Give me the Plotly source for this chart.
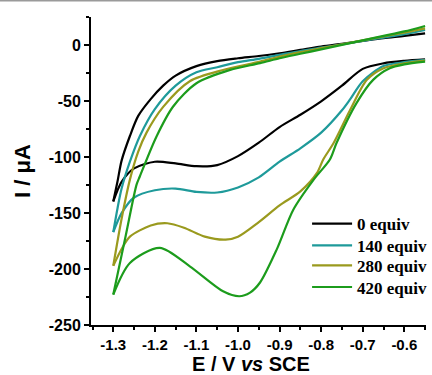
import plotly.graph_objects as go

# ---------------- data (E in V vs SCE, I in uA) ----------------
labels = ["0 equiv", "140 equiv", "280 equiv", "420 equiv"]
colors = ["#000000", "#1e9a9a", "#9a9a1e", "#1c9c1c"]

# cathodic scans (from -0.55 V towards -1.3 V)
e_cat_0 = [-0.55, -0.6, -0.65, -0.7, -0.75, -0.8, -0.85, -0.9, -0.95, -1.0, -1.05, -1.1, -1.15, -1.2, -1.25, -1.28, -1.3]
i_cat_0 = [-12.5, -13.8, -16, -21, -36, -50, -62, -73, -87, -99, -107, -108, -105.5, -104, -110, -122, -139.5]

e_cat_140 = [-0.55, -0.6, -0.65, -0.7, -0.73, -0.75, -0.8, -0.85, -0.9, -0.95, -1.0, -1.05, -1.1, -1.15, -1.2, -1.25, -1.28, -1.3]
i_cat_140 = [-13, -15, -18.5, -32, -48, -58, -78, -92, -104, -118, -127, -131.5, -131, -128, -129.5, -136, -150, -167]

e_cat_280 = [-0.55, -0.6, -0.65, -0.69, -0.73, -0.77, -0.795, -0.81, -0.85, -0.9, -0.95, -1.0, -1.03, -1.08, -1.13, -1.17, -1.21, -1.26, -1.28, -1.3]
i_cat_280 = [-13.5, -16, -20.4, -30.8, -57.6, -87.3, -102, -114, -130.5, -143, -158, -171, -173.7, -171, -163, -159, -161, -171, -182, -197]

e_cat_420 = [-0.55, -0.6, -0.635, -0.675, -0.715, -0.763, -0.779, -0.818, -0.867, -0.907, -0.947, -0.971, -0.997, -1.036, -1.116, -1.188, -1.26, -1.3]
i_cat_420 = [-14.5, -17, -20.4, -30.8, -51.6, -87.3, -102, -120, -146.9, -182.6, -212, -221, -224.3, -219.8, -197.5, -181, -194.5, -222.8]

# anodic scans (from -1.3 V back to -0.55 V)
e_an_0 = [-1.3, -1.29, -1.28, -1.26, -1.24, -1.21, -1.18, -1.15, -1.1, -1.05, -1.0, -0.95, -0.9, -0.85, -0.8, -0.75, -0.7, -0.65, -0.6, -0.55]
i_an_0 = [-139.5, -122, -103, -81, -63, -48, -36, -27, -18.5, -14, -11.5, -9.5, -7, -4, -1, 1.5, 4, 6.5, 8.5, 10.8]

e_an_140 = [-1.3, -1.29, -1.28, -1.26, -1.236, -1.2, -1.15, -1.1, -1.05, -1.0, -0.95, -0.9, -0.85, -0.8, -0.75, -0.7, -0.65, -0.6, -0.55]
i_an_140 = [-167, -146, -128, -104, -81, -57, -36, -24, -19.5, -15, -12, -8.5, -5, -2, 1, 4, 7, 10, 13.8]

e_an_280 = [-1.3, -1.28, -1.26, -1.24, -1.22, -1.18, -1.116, -1.036, -0.947, -0.9, -0.85, -0.8, -0.75, -0.7, -0.65, -0.6, -0.55]
i_an_280 = [-197, -155, -120, -95, -78, -55, -32, -22, -14.5, -10, -6, -2.5, 1, 4.5, 8, 11.5, 15.3]

e_an_420 = [-1.3, -1.27, -1.244, -1.236, -1.196, -1.156, -1.1, -1.019, -0.947, -0.9, -0.85, -0.8, -0.75, -0.7, -0.65, -0.6, -0.55]
i_an_420 = [-222.8, -170, -124.5, -117, -81.4, -54.6, -33.8, -21.9, -15.9, -11.5, -7.5, -3.5, 0.5, 4.5, 8.5, 12.5, 17.4]

cathodic = [(e_cat_0, i_cat_0), (e_cat_140, i_cat_140), (e_cat_280, i_cat_280), (e_cat_420, i_cat_420)]
anodic = [(e_an_0, i_an_0), (e_an_140, i_an_140), (e_an_280, i_an_280), (e_an_420, i_an_420)]

x_tickvals = [-1.3, -1.2, -1.1, -1.0, -0.9, -0.8, -0.7, -0.6]
x_ticktext = ["-1.3", "-1.2", "-1.1", "-1.0", "-0.9", "-0.8", "-0.7", "-0.6"]
y_tickvals = [0, -50, -100, -150, -200, -250]
y_ticktext = ["0", "-50", "-100", "-150", "-200", "-250"]
x_title = "E / V <i>vs</i> SCE"
y_title = "I / μA"

# ---------------- figure ----------------
legend_ids = ["legend", "legend2", "legend3", "legend4"]
legend_tops = [0.386, 0.3155, 0.2505, 0.1804]

fig = go.Figure()
for k in range(4):
    ec, ic = cathodic[k]
    ea, ia = anodic[k]
    fig.add_trace(go.Scatter(x=ec, y=ic, mode="lines", name=labels[k], legendgroup=labels[k],
                             legend=legend_ids[k],
                             line=dict(color=colors[k], width=2.2, shape="spline", smoothing=0.8)))
    fig.add_trace(go.Scatter(x=ea, y=ia, mode="lines", name=labels[k], legendgroup=labels[k],
                             legend=legend_ids[k], showlegend=False,
                             line=dict(color=colors[k], width=2.2, shape="spline", smoothing=0.8)))

yaxis_font = dict(family="Arial, Liberation Sans", size=16, color="#000", weight="bold")
xaxis_font = dict(family="Arial, Liberation Sans", size=15, color="#000", weight="bold")
title_font = dict(family="Arial, Liberation Sans", size=22, color="#000", weight="bold")
xtitle_font = dict(family="Arial, Liberation Sans", size=20, color="#000", weight="bold")
legend_font = dict(family="Liberation Serif, Times New Roman", size=17, color="#000", weight="bold")

legend_layout = {}
for k in range(4):
    legend_layout[legend_ids[k]] = dict(x=0.645, y=legend_tops[k], xanchor="left", yanchor="top",
                                        bgcolor="rgba(0,0,0,0)", borderwidth=0,
                                        font=legend_font, itemwidth=40)

fig.update_layout(
    width=432, height=375,
    margin=dict(l=91, r=6, t=17, b=50, autoexpand=False),
    paper_bgcolor="white", plot_bgcolor="white",
    showlegend=True,
    xaxis=dict(range=[-1.3536, -0.5478], tickvals=x_tickvals, ticktext=x_ticktext,
               showgrid=False, zeroline=False, showline=True, linecolor="#000", linewidth=2,
               ticks="outside", ticklen=5, tickwidth=2, tickcolor="#000",
               tickfont=xaxis_font, automargin=False,
               minor=dict(dtick=0.05, tick0=-1.3, ticks="outside", ticklen=3, tickwidth=2, tickcolor="#000", showgrid=False)),
    yaxis=dict(range=[-250, 25.4], tickvals=y_tickvals, ticktext=y_ticktext,
               showgrid=False, zeroline=False, showline=True, linecolor="#000", linewidth=2,
               ticks="outside", ticklen=5, tickwidth=2, tickcolor="#000",
               tickfont=yaxis_font, automargin=True,
               minor=dict(dtick=25, tick0=0, ticks="outside", ticklen=3, tickwidth=2, tickcolor="#000", showgrid=False),
               title=dict(text=y_title, standoff=12, font=title_font)),
    **legend_layout,
)

# x-axis title placed as a paper annotation below the tick labels
fig.add_annotation(text=x_title, xref="paper", yref="paper", x=0.477, y=(325 - 363.5) / 308,
                   xanchor="center", yanchor="middle", showarrow=False, font=xtitle_font,
                   borderpad=0)

# thin grey border at the top edge of the image
fig.add_shape(type="line", xref="paper", yref="paper",
              x0=-91 / 335, x1=341 / 335, y0=1 + 16.5 / 308, y1=1 + 16.5 / 308,
              line=dict(color="#9a9a9a", width=2))

fig.write_html("out.html")
